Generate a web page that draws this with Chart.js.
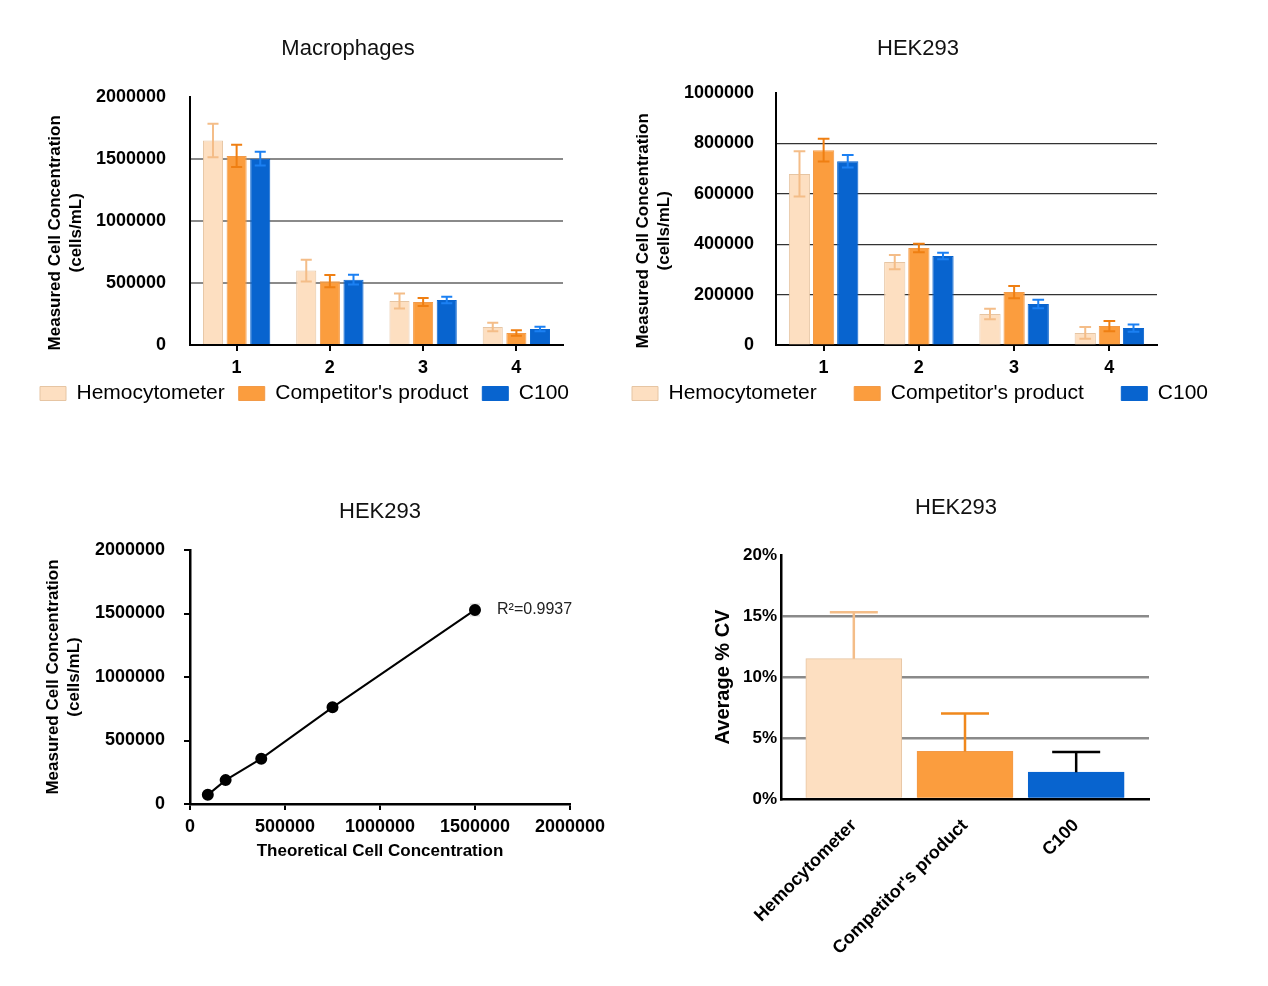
<!DOCTYPE html>
<html>
<head>
<meta charset="utf-8">
<title>Cell concentration comparison</title>
<script src="https://cdn.jsdelivr.net/npm/chart.js@4.4.1/dist/chart.umd.min.js"></script>
<style>
  html, body { margin: 0; padding: 0; background: #fff; }
  body { width: 1268px; height: 986px; position: relative; overflow: hidden; }
  .panel { position: absolute; }
</style>
</head>
<body>
<div class="panel" style="left:0;top:0;width:640px;height:426px"><canvas id="macroChart"></canvas></div>
<div class="panel" style="left:580px;top:0;width:688px;height:450px"><canvas id="hekChart"></canvas></div>
<div class="panel" style="left:0;top:440px;width:640px;height:440px"><canvas id="linearityChart"></canvas></div>
<div class="panel" style="left:640px;top:440px;width:628px;height:546px"><canvas id="cvChart"></canvas></div>
<script>
// ---- data ----
const dilutions = ['1', '2', '3', '4'];
const methods = ['Hemocytometer', "Competitor's product", 'C100'];

const macroHemo = [1650000, 600000, 355000, 145000];
const macroHemoErr = [135000, 88000, 60000, 35000];
const macroComp = [1525000, 515000, 347000, 97000];
const macroCompErr = [90000, 50000, 32000, 22000];
const macroC100 = [1503000, 527000, 363000, 129000];
const macroC100Err = [55000, 40000, 27000, 19000];
const macroTicks = [0, 500000, 1000000, 1500000, 2000000];

const hekHemo = [679000, 329000, 123000, 48000];
const hekHemoErr = [90000, 28000, 21000, 23000];
const hekComp = [773000, 385000, 210000, 75000];
const hekCompErr = [45000, 17000, 24000, 20000];
const hekC100 = [729000, 353000, 163000, 67000];
const hekC100Err = [25000, 13000, 17000, 14000];
const hekTicks = [0, 200000, 400000, 600000, 800000, 1000000];

const theoretical = [93750, 187500, 375000, 750000, 1500000];
const measured = [72000, 188000, 357000, 761000, 1528000];
const measuredErr = [0, 0, 0, 0, 45000];
const linTicks = [0, 500000, 1000000, 1500000, 2000000];
const rSquared = 'R\u00b2=0.9937';

const avgCV = [11.5, 3.9, 2.2];
const avgCVErr = [3.8, 3.1, 1.65];
const cvTicks = [0, 5, 10, 15, 20];

// ---- colours ----
const hemoFill = '#fddfc1', hemoLine = '#e6c5a3', hemoErr = '#f4bd88';
const compFill = '#fb9d3e', compLine = '#f29a48', compErr = '#ef7f12';
const c100Fill = '#0864cf', c100Line = '#0864cf', c100Err = '#1b80f3';

Chart.defaults.font.family = '"Liberation Sans", Arial, Helvetica, sans-serif';
Chart.defaults.color = '#000';

// ---- helpers ----
const fixWidth = w => s => { s.width = w; };
const fixHeight = h => s => { s.height = h; };
const useTicks = list => s => { s.ticks = list.map(v => ({ value: v })); };
const hideEnds = max => c => (c.tick.value === 0 || c.tick.value === max) ? 'rgba(0,0,0,0)' : undefined;
const spacer = w => ({
    type: 'linear', position: 'right', display: true,
    grid: { display: false }, border: { display: false }, ticks: { display: false },
    afterFit: fixWidth(w)
});
// the reference centres its rotated axis titles a little below the plot centre
const yTitle = ['Measured Cell Concentration     ', '(cells/mL)     '];

// error bars drawn from dataset.errors through the chart's own scales
function drawErrors(chart, behind) {
    const ctx = chart.ctx;
    chart.data.datasets.forEach((ds, di) => {
        if (!ds.errors || !!ds.errorBehind !== behind) return;
        const meta = chart.getDatasetMeta(di);
        const yScale = chart.scales[meta.yAxisID];
        meta.data.forEach((el, i) => {
            const err = ds.errors[i];
            if (!err) return;
            const v = meta.controller.getParsed(i).y;
            const top = yScale.getPixelForValue(v + err);
            const bottom = ds.errorBoth === false ? el.y : yScale.getPixelForValue(v - err);
            const half = (ds.capWidth || el.width * ds.capRatio) / 2;
            ctx.save();
            ctx.strokeStyle = Array.isArray(ds.errorColor) ? ds.errorColor[i] : ds.errorColor;
            ctx.lineWidth = ds.errorWidth || 2;
            ctx.beginPath();
            ctx.moveTo(el.x, top);
            ctx.lineTo(el.x, bottom);
            ctx.moveTo(el.x - half, top);
            ctx.lineTo(el.x + half, top);
            if (ds.errorBoth !== false) {
                ctx.moveTo(el.x - half, bottom);
                ctx.lineTo(el.x + half, bottom);
            }
            ctx.stroke();
            ctx.restore();
        });
    });
}
const errorBars = {
    id: 'errorBars',
    beforeDatasetsDraw(chart) { drawErrors(chart, true); },
    afterDatasetsDraw(chart) { drawErrors(chart, false); }
};

// panel titles (placed independently of the legend)
const panelTitle = {
    id: 'panelTitle',
    afterDraw(chart, args, opts) {
        if (!opts.text) return;
        const ctx = chart.ctx;
        ctx.save();
        ctx.font = '22px "Liberation Sans", Arial, sans-serif';
        ctx.fillStyle = '#111';
        ctx.textAlign = 'center';
        ctx.textBaseline = 'middle';
        ctx.fillText(opts.text, opts.x, opts.y);
        ctx.restore();
    }
};

// move the legend up so it can sit close under the tick labels
const legendNudge = {
    id: 'legendNudge',
    afterLayout(chart, args, opts) {
        if (!opts.dy || !chart.legend) return;
        chart.legend.top += opts.dy;
        chart.legend.bottom += opts.dy;
    }
};

// R squared note next to the last point
const pointNote = {
    id: 'pointNote',
    afterDatasetsDraw(chart, args, opts) {
        if (!opts.text) return;
        const el = chart.getDatasetMeta(0).data[opts.index];
        const ctx = chart.ctx;
        ctx.save();
        ctx.font = '16px "Liberation Sans", Arial, sans-serif';
        ctx.fillStyle = '#222';
        ctx.textAlign = 'left';
        ctx.textBaseline = 'middle';
        ctx.fillText(opts.text, el.x + opts.dx, el.y);
        ctx.restore();
    }
};

function barSet(label, data, errors, fill, line, errColor, catPct, barPct) {
    return {
        label, data, errors,
        backgroundColor: fill, borderColor: line, borderWidth: 1,
        categoryPercentage: catPct, barPercentage: barPct,
        errorColor: errColor, capRatio: 0.55, errorWidth: 2
    };
}

function groupedOptions(p) {
    return {
        responsive: true, maintainAspectRatio: false, animation: false, devicePixelRatio: 1,
        layout: { padding: p.padding },
        plugins: {
            tooltip: { enabled: false },
            panelTitle: p.title,
            legendNudge: { dy: p.legendDy },
            legend: {
                position: 'bottom', align: 'start',
                labels: { boxWidth: 26, boxHeight: 14, padding: p.legendPad, color: '#000', font: { size: 21 } }
            }
        },
        scales: {
            x: {
                afterFit: fixHeight(34),
                ticks: { color: '#000', font: { size: 18, weight: 'bold' }, padding: 6 },
                grid: { display: true, drawOnChartArea: false, drawTicks: true, tickLength: 6, offset: false, color: '#000', lineWidth: 2 },
                border: { color: '#000', width: 2 }
            },
            y: {
                min: 0, max: p.ticks[p.ticks.length - 1],
                afterBuildTicks: useTicks(p.ticks),
                afterFit: fixWidth(p.yWidth),
                ticks: { color: '#000', font: { size: 18, weight: 'bold' }, padding: p.tickPad, callback: v => String(v) },
                grid: { drawTicks: false, lineWidth: p.gridWidth, color: c => hideEnds(p.ticks[p.ticks.length - 1])(c) || p.gridColor },
                border: { color: '#000', width: 2 },
                title: {
                    display: true, text: yTitle, color: '#000',
                    font: { size: 17, weight: 'bold', lineHeight: 1.25 }, padding: { top: p.titlePad, bottom: 0 }
                }
            },
            pad: spacer(p.spacer)
        }
    };
}

// ---- Macrophages ----
new Chart(document.getElementById('macroChart'), {
    type: 'bar',
    data: {
        labels: dilutions,
        datasets: [
            barSet('Hemocytometer', macroHemo, macroHemoErr, hemoFill, hemoLine, hemoErr, 0.76, 0.85),
            barSet("Competitor's product", macroComp, macroCompErr, compFill, compLine, compErr, 0.76, 0.85),
            barSet('C100', macroC100, macroC100Err, c100Fill, c100Line, c100Err, 0.76, 0.85)
        ]
    },
    options: groupedOptions({
        padding: { left: 26, top: 97, right: 0, bottom: 2 },
        title: { text: 'Macrophages', x: 348, y: 49 },
        legendPad: 14, legendDy: -10, yWidth: 164, tickPad: 24, titlePad: 18.4,
        ticks: macroTicks, gridWidth: 2, gridColor: '#8a8a8a', spacer: 77
    }),
    plugins: [errorBars, panelTitle, legendNudge]
});

// ---- HEK293 bars ----
new Chart(document.getElementById('hekChart'), {
    type: 'bar',
    data: {
        labels: dilutions,
        datasets: [
            barSet('Hemocytometer', hekHemo, hekHemoErr, hemoFill, hemoLine, hemoErr, 0.76, 0.88),
            barSet("Competitor's product", hekComp, hekCompErr, compFill, compLine, compErr, 0.76, 0.88),
            barSet('C100', hekC100, hekC100Err, c100Fill, c100Line, c100Err, 0.76, 0.88)
        ]
    },
    options: groupedOptions({
        padding: { left: 14.5, top: 93, right: 0, bottom: 2.5 },
        title: { text: 'HEK293', x: 338, y: 49 },
        legendPad: 37.5, legendDy: -33.5, yWidth: 181.5, tickPad: 22, titlePad: 37.9,
        ticks: hekTicks, gridWidth: 1.2, gridColor: '#333', spacer: 111
    }),
    plugins: [errorBars, panelTitle, legendNudge]
});

// ---- HEK293 linearity ----
new Chart(document.getElementById('linearityChart'), {
    type: 'scatter',
    data: {
        datasets: [{
            data: theoretical.map((x, i) => ({ x, y: measured[i] })),
            showLine: true, borderColor: '#000', borderWidth: 2,
            pointRadius: 5, pointBackgroundColor: '#000', pointBorderColor: '#000',
            errors: measuredErr, errorBehind: true, errorColor: '#dcdcdc', capWidth: 10, errorWidth: 1.5
        }]
    },
    options: {
        responsive: true, maintainAspectRatio: false, animation: false, devicePixelRatio: 1,
        layout: { padding: { left: 0, top: 110, right: 0, bottom: 6 } },
        plugins: {
            legend: { display: false },
            tooltip: { enabled: false },
            panelTitle: { text: 'HEK293', x: 380, y: 72 },
            pointNote: { text: rSquared, index: 4, dx: 22 }
        },
        scales: {
            x: {
                type: 'linear', min: 0, max: 2000000,
                afterBuildTicks: useTicks(linTicks),
                afterFit: fixHeight(70),
                ticks: { color: '#000', font: { size: 18, weight: 'bold' }, padding: 6, callback: v => String(v) },
                grid: { drawOnChartArea: false, drawTicks: true, tickLength: 6, color: '#000', lineWidth: 2 },
                border: { color: '#000', width: 2.5 },
                title: { display: true, text: 'Theoretical Cell Concentration', color: '#000', font: { size: 17, weight: 'bold' }, padding: { top: 0, bottom: 12 } }
            },
            y: {
                type: 'linear', min: 0, max: 2000000,
                afterBuildTicks: useTicks(linTicks),
                afterFit: fixWidth(190),
                ticks: { color: '#000', font: { size: 18, weight: 'bold' }, padding: 19, callback: v => String(v) },
                grid: { drawOnChartArea: false, drawTicks: true, tickLength: 6, color: '#000', lineWidth: 2 },
                border: { color: '#000', width: 2.5 },
                title: {
                    display: true, text: ['Measured Cell Concentration', '(cells/mL)'], color: '#000',
                    font: { size: 17, weight: 'bold', lineHeight: 1.25 }, padding: { top: 42.4, bottom: 0 }
                }
            },
            pad: spacer(70)
        }
    },
    plugins: [errorBars, panelTitle, pointNote]
});

// ---- HEK293 average CV ----
new Chart(document.getElementById('cvChart'), {
    type: 'bar',
    data: {
        datasets: [{
            label: 'Average % CV',
            data: avgCV.map((v, i) => ({ x: i, y: v })),
            backgroundColor: [hemoFill, compFill, c100Fill],
            borderColor: [hemoLine, compLine, c100Line],
            borderWidth: 1, barThickness: 96,
            errors: avgCVErr, errorBoth: false,
            errorColor: [hemoErr, '#f0881c', '#000'], capWidth: 48, errorWidth: 2.5
        }]
    },
    options: {
        responsive: true, maintainAspectRatio: false, animation: false, devicePixelRatio: 1,
        layout: { padding: { left: 0, top: 115, right: 0, bottom: 0 } },
        plugins: {
            legend: { display: false },
            tooltip: { enabled: false },
            panelTitle: { text: 'HEK293', x: 316, y: 68 }
        },
        scales: {
            x: {
                type: 'linear', min: -0.655, max: 2.655, offset: false,
                afterBuildTicks: s => { s.ticks = methods.map((m, i) => ({ value: i })); },
                afterFit: fixHeight(187),
                ticks: { color: '#000', font: { size: 18, weight: 'bold' }, padding: 8, minRotation: 45, maxRotation: 45, autoSkip: false, callback: v => methods[v] },
                grid: { display: false, offset: false },
                border: { color: '#000', width: 2.5 }
            },
            y: {
                min: 0, max: 20,
                afterBuildTicks: useTicks(cvTicks),
                afterFit: fixWidth(141),
                ticks: { color: '#000', font: { size: 17, weight: 'bold' }, padding: 4, callback: v => v + '%' },
                grid: { drawTicks: false, lineWidth: 2.5, color: c => hideEnds(20)(c) || '#8a8a8a' },
                border: { color: '#000', width: 2.5 },
                title: { display: true, text: 'Average % CV', color: '#000', font: { size: 20, weight: 'bold' }, padding: { top: 71, bottom: 0 } }
            },
            pad: spacer(119)
        }
    },
    plugins: [errorBars, panelTitle]
});
</script>
</body>
</html>
